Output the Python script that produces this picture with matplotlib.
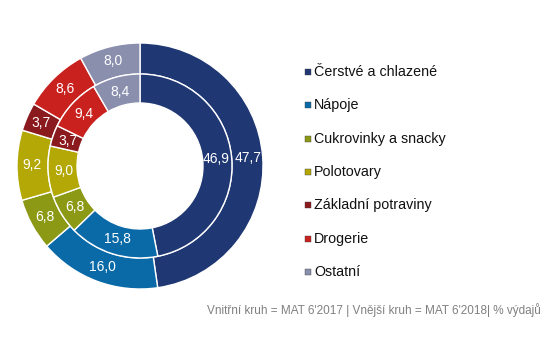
import matplotlib
matplotlib.use("Agg")
import matplotlib.pyplot as plt
import numpy as np

categories = ["Čerstvé a chlazené", "Nápoje", "Cukrovinky a snacky", "Polotovary",
              "Základní potraviny", "Drogerie", "Ostatní"]
inner_2017 = [46.9, 15.8, 6.8, 9.0, 3.7, 9.4, 8.4]
outer_2018 = [47.7, 16.0, 6.8, 9.2, 3.7, 8.6, 8.0]
colors = ["#1f3773", "#0a6aa8", "#8c9915", "#b3a805", "#8b1a1f", "#c8211e", "#8a8fae"]
footnote = "Vnitřní kruh = MAT 6'2017 | Vnější kruh = MAT 6'2018| % výdajů"

plt.rcParams["font.family"] = ["Liberation Sans", "DejaVu Sans"]

W, H = 550, 340
fig = plt.figure(figsize=(W / 100, H / 100), dpi=100)
ax = fig.add_axes([0, 0, 1, 1])
ax.set_xlim(0, W)
ax.set_ylim(0, H)
ax.set_aspect("equal")
ax.axis("off")

cx, cy = 140, H - 166
r_out, r_mid, r_hole = 123, 92, 63


def ring(values, radius, width, label_r):
    wedges, _ = ax.pie(values, radius=radius, center=(cx, cy), startangle=90,
                       counterclock=False, colors=colors,
                       wedgeprops=dict(width=width, edgecolor="white", linewidth=1.0))
    for w, v in zip(wedges, values):
        ang = np.deg2rad((w.theta1 + w.theta2) / 2)
        ax.text(cx + label_r * np.cos(ang), cy + label_r * np.sin(ang),
                f"{v:.1f}".replace(".", ","), color="white", fontsize=10,
                ha="center", va="center")


ring(outer_2018, r_out, r_out - r_mid, 108)
ring(inner_2017, r_mid, r_mid - r_hole, 76.5)
ax.set_xlim(0, W)
ax.set_ylim(0, H)

# legend
for i, (name, c) in enumerate(zip(categories, colors)):
    y = H - (72 + i * 33.3)
    ax.scatter([308], [y], marker="s", s=20, color=c, edgecolors="#444444", linewidths=0.3)
    ax.text(314, y, name, fontsize=10.3, va="center", ha="left", color="#111111")

ax.text(541, H - 310, footnote, fontsize=8.5, color="#808080", ha="right", va="center")

fig.savefig("out.png", dpi=100)
